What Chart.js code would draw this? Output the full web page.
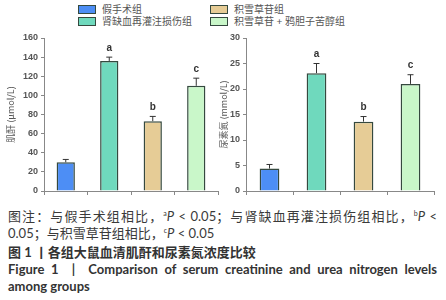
<!DOCTYPE html>
<html>
<head>
<meta charset="utf-8">
<script src="https://cdn.jsdelivr.net/npm/chart.js@4.4.0/dist/chart.umd.min.js"></script>
<style>
  html, body { margin: 0; padding: 0; background: #fff; }
  body { width: 446px; height: 300px; position: relative; overflow: hidden;
         font-family: "Lato", "Noto Sans CJK SC", sans-serif; }
  .box { position: absolute; }
  #legend .item { position: absolute; font-size: 10px; color: #555; line-height: 12px; white-space: nowrap; }
  #legend .sw { position: absolute; width: 16px; height: 7px; border: 1px solid #35493f; }
  .cap { position: absolute; left: 8px; width: 429px; font-size: 13px; line-height: 17px; color: #3a3a3a; white-space: nowrap; }
  .just { text-align: justify; text-align-last: justify; }
  .cap sup { font-size: 7px; vertical-align: 5px; }
  .cap i { font-style: italic; }
  .bold { font-weight: bold; color: #333; }
</style>
</head>
<body>
<div id="legend"></div>
<canvas id="graficoCr" class="box" style="left:0;top:28px" width="222" height="172"></canvas>
<canvas id="graficoBun" class="box" style="left:218px;top:28px" width="222" height="172"></canvas>

<div class="cap just" style="top:205px">图注：与假手术组相比，<sup>a</sup><i>P</i> &lt; 0.05；与肾缺血再灌注损伤组相比，<sup>b</sup><i>P</i> &lt;</div>
<div class="cap" style="top:222px">0.05；与积雪草苷组相比，<sup>c</sup><i>P</i> &lt; 0.05</div>
<div class="cap bold" style="top:244px">图 1 丨各组大鼠血清肌酐和尿素氮浓度比较</div>
<div class="cap bold just" style="top:261px">Figure 1 &nbsp;| &nbsp;Comparison of serum creatinine and urea nitrogen levels</div>
<div class="cap bold" style="top:278px">among groups</div>

<script>
const grupos = ['假手术组', '肾缺血再灌注损伤组', '积雪草苷组', '积雪草苷 + 鸦胆子苦醇组'];
const cores = ['#4d8ef5', '#6fd9bd', '#e6cc96', '#c9f7c9'];
const letras = ['', 'a', 'b', 'c'];

const creatinina = [30, 136, 73, 110];
const creatininaErro = [3, 4, 5, 8];
const creatininaTicks = [0, 20, 40, 60, 80, 100, 120, 140, 160];

const ureia = [4.4, 23.1, 13.6, 21];
const ureiaErro = [0.8, 1.9, 1.0, 1.8];
const ureiaTicks = [0, 5, 10, 15, 20, 25, 30];

// legenda em html (2 colunas x 2 linhas)
const legend = document.getElementById('legend');
const legPos = [[78, 3], [78, 15], [210, 3], [210, 15]];
grupos.forEach((g, i) => {
    const sw = document.createElement('div');
    sw.className = 'sw';
    sw.style.left = legPos[i][0] + 'px';
    sw.style.top = (legPos[i][1] + 2) + 'px';
    sw.style.background = cores[i];
    legend.appendChild(sw);
    const t = document.createElement('div');
    t.className = 'item';
    t.style.left = (legPos[i][0] + 24) + 'px';
    t.style.top = legPos[i][1] + 'px';
    t.textContent = g;
    legend.appendChild(t);
});

// barras de erro + letras de significância
const errorBars = {
    id: 'errorBars',
    afterDatasetsDraw(chart, args, opts) {
        const { ctx } = chart;
        const meta = chart.getDatasetMeta(0);
        const ys = chart.scales.y;
        const vals = chart.data.datasets[0].data;
        ctx.save();
        ctx.strokeStyle = '#333';
        ctx.lineWidth = 1;
        meta.data.forEach((bar, i) => {
            const top = ys.getPixelForValue(vals[i] + opts.err[i]);
            const base = ys.getPixelForValue(vals[i]);
            ctx.beginPath();
            ctx.moveTo(bar.x, base);
            ctx.lineTo(bar.x, top);
            ctx.moveTo(bar.x - 3, top);
            ctx.lineTo(bar.x + 3, top);
            ctx.stroke();
            if (letras[i]) {
                ctx.fillStyle = '#333';
                ctx.font = 'bold 10px "Liberation Sans", sans-serif';
                ctx.textAlign = 'center';
                ctx.textBaseline = 'bottom';
                ctx.fillText(letras[i], bar.x, top - 4);
            }
        });
        ctx.restore();
    }
};

function criarGrafico(id, valores, erros, ticks, titulo, yWidth, titlePad, padRight) {
    const ctx = document.getElementById(id).getContext('2d');
    return new Chart(ctx, {
        type: 'bar',
        data: {
            labels: grupos,
            datasets: [{
                data: valores,
                backgroundColor: cores,
                borderColor: '#35493f',
                borderWidth: 1.5,
                barPercentage: 0.42,
                categoryPercentage: 1
            }]
        },
        options: {
            responsive: false,
            animation: false,
            layout: { padding: { top: 10, right: padRight, left: 0, bottom: 0 } },
            plugins: {
                legend: { display: false },
                tooltip: { enabled: false },
                errorBars: { err: erros }
            },
            scales: {
                x: {
                    grid: { display: true, offset: true, drawOnChartArea: false, drawTicks: true, tickLength: 4, color: '#888' },
                    border: { color: '#888' },
                    ticks: { display: false },
                    afterFit: s => { s.height = 9; }
                },
                y: {
                    min: ticks[0],
                    max: ticks[ticks.length - 1],
                    afterBuildTicks: s => { s.ticks = ticks.map(v => ({ value: v })); },
                    grid: { drawOnChartArea: false, drawTicks: true, tickLength: 3, color: '#888' },
                    border: { color: '#888' },
                    ticks: {
                        padding: 3,
                        color: '#555',
                        font: { family: '"Liberation Sans", sans-serif', size: 9, weight: 'bold' }
                    },
                    title: {
                        display: true,
                        text: titulo,
                        color: '#555',
                        padding: { top: titlePad, bottom: 0 },
                        font: { family: '"Noto Sans CJK SC", sans-serif', size: 9 }
                    },
                    afterFit: s => { s.width = yWidth; }
                }
            }
        },
        plugins: [errorBars]
    });
}

criarGrafico('graficoCr', creatinina, creatininaErro, creatininaTicks, '肌酐 (μmol/L)', 44, 5, 4);
criarGrafico('graficoBun', ureia, ureiaErro, ureiaTicks, '尿素氮 (mmol/L)', 28, 0, 6);
</script>
</body>
</html>
